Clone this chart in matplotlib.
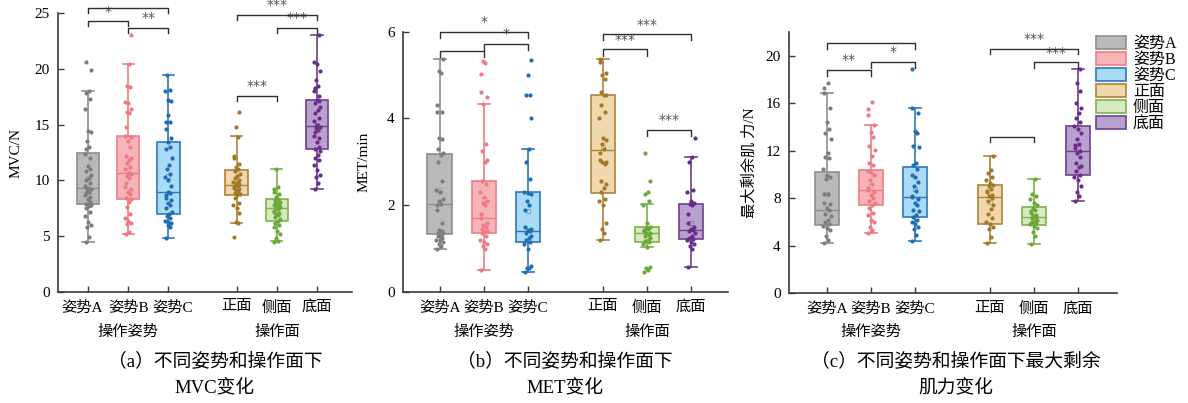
import matplotlib
matplotlib.use("Agg")
import matplotlib.pyplot as plt
import matplotlib.transforms as mtransforms
from matplotlib.patches import Patch

plt.rcParams['font.family'] = ['Liberation Serif', 'Noto Sans CJK SC', 'DejaVu Sans']
plt.rcParams['axes.unicode_minus'] = False

# Categories and labels.
categories   = ["姿势A", "姿势B", "姿势C", "正面", "侧面", "底面"]
group_labels = ["操作姿势", "操作面"]
positions    = [1, 2, 3, 4.7, 5.7, 6.7]

# Colours: box face, box edge, points.
face_colors  = ["#b9b9b9", "#f6b4b8", "#a9daf6", "#efd9ac", "#d7e9bf", "#b8a2cd"]
edge_colors  = ["#8e8e8e", "#ef7d84", "#2f78b8", "#ad8439", "#7cb24c", "#70408f"]
point_colors = ["#7d7d7d", "#f07880", "#1f6db2", "#a27828", "#6aa83a", "#6a2b8c"]

# ---- Panel (a): MVC/N ----
mvc_q1     = [7.9, 8.35, 7.0, 8.7, 6.4, 12.8]
mvc_med    = [9.3, 10.7, 9.0, 9.55, 7.5, 14.85]
mvc_q3     = [12.45, 13.95, 13.45, 10.95, 8.3, 17.2]
mvc_whislo = [4.5, 5.2, 4.8, 6.2, 4.55, 9.2]
mvc_whishi = [18.0, 20.45, 19.4, 13.95, 11.0, 23.05]
mvc_mean   = [10.2, 10.9, 10.4, 9.8, 7.4, 15.0]
mvc_points = [
    [4.5, 4.9, 5.8, 6.0, 6.3, 6.8, 7.2, 7.5, 7.7, 7.8, 7.9, 8.1, 8.3, 8.5, 8.7, 8.9, 9.0, 9.1, 9.2, 9.3, 9.5,
     9.8, 10.0, 10.2, 10.5, 10.8, 11.0, 11.3, 12.0, 12.4, 12.8, 13.0, 13.5, 14.3, 14.4, 16.4, 17.3, 17.8, 18.0, 19.9, 20.6],
    [5.2, 5.4, 6.1, 6.2, 6.4, 6.6, 7.0, 7.6, 8.1, 8.3, 8.4, 8.8, 9.0, 9.2, 9.4, 9.8, 10.2, 10.4, 10.6, 10.7, 11.0,
     11.2, 11.6, 11.8, 12.0, 12.2, 13.0, 13.5, 13.9, 14.0, 14.8, 16.0, 16.1, 16.4, 16.9, 17.0, 18.4, 18.5, 20.4, 23.0],
    [4.8, 5.8, 6.0, 6.2, 6.3, 6.4, 6.6, 6.8, 7.0, 7.2, 7.5, 7.8, 8.0, 8.2, 8.4, 8.7, 8.9, 9.0, 9.5, 10.0, 10.3,
     10.6, 11.0, 11.4, 12.0, 12.8, 13.0, 13.4, 13.8, 14.6, 15.2, 15.2, 15.9, 17.1, 17.2, 18.0, 18.1, 19.4],
    [4.9, 6.2, 6.3, 7.1, 7.5, 7.8, 8.0, 8.4, 8.7, 8.8, 8.9, 9.0, 9.1, 9.2, 9.3, 9.4, 9.5, 9.6, 9.7, 9.8, 9.9,
     10.0, 10.2, 10.4, 10.6, 10.8, 11.0, 11.2, 11.5, 12.0, 12.2, 13.9, 14.8, 16.1],
    [4.5, 4.6, 4.8, 5.2, 5.5, 5.8, 6.0, 6.2, 6.4, 6.5, 6.7, 6.9, 7.0, 7.1, 7.2, 7.3, 7.4, 7.5, 7.6, 7.7, 7.8,
     7.9, 8.0, 8.0, 8.1, 8.2, 8.3, 8.5, 8.8, 9.0, 9.2, 9.4, 11.0],
    [9.2, 9.8, 10.3, 10.5, 10.9, 11.4, 11.8, 12.0, 12.3, 12.6, 12.8, 13.0, 13.4, 13.8, 14.0, 14.3, 14.5, 14.7,
     14.8, 15.0, 15.3, 15.6, 16.0, 16.3, 16.6, 16.9, 17.1, 17.2, 17.6, 18.0, 18.3, 18.5, 19.0, 19.8, 20.4, 20.6, 23.0],
]
# brackets: (x1, x2, y, leg, label)
mvc_brackets = [
    (1, 3, 25.45, 0.45, ""),
    (1, 2, 24.25, 0.45, "*"),
    (2, 3, 23.65, 0.45, "**"),
    (4.7, 6.7, 24.85, 0.5, "***"),
    (5.7, 6.7, 23.65, 0.45, "***"),
    (4.7, 5.7, 17.6, 0.45, "***"),
]

# ---- Panel (b): MET/min ----
met_q1     = [1.33, 1.36, 1.15, 2.28, 1.15, 1.22]
met_med    = [2.02, 1.70, 1.40, 3.28, 1.36, 1.42]
met_q3     = [3.17, 2.55, 2.30, 4.53, 1.49, 2.02]
met_whislo = [1.0, 0.5, 0.45, 1.2, 1.03, 0.57]
met_whishi = [5.38, 4.33, 3.30, 5.38, 2.02, 3.12]
met_mean   = [2.35, 2.15, 1.87, 3.35, 1.4, 1.6]
met_points = [
    [1.0, 1.05, 1.1, 1.15, 1.2, 1.2, 1.25, 1.3, 1.3, 1.35, 1.35, 1.4, 1.42, 1.6, 1.9, 2.0, 2.02, 2.1, 2.15, 2.3,
     2.35, 2.55, 3.0, 3.15, 3.2, 3.3, 3.52, 3.55, 4.15, 4.15, 4.3, 5.05, 5.1, 5.38],
    [0.5, 1.0, 1.05, 1.1, 1.15, 1.2, 1.3, 1.35, 1.38, 1.4, 1.45, 1.5, 1.55, 1.6, 1.7, 1.8, 2.0, 2.05, 2.1, 2.2,
     2.3, 2.5, 2.55, 3.0, 3.05, 3.25, 3.4, 4.33, 4.5, 4.6, 5.02, 5.27, 5.33],
    [0.45, 0.55, 0.55, 0.6, 1.0, 1.1, 1.15, 1.2, 1.25, 1.3, 1.35, 1.4, 1.42, 1.45, 1.5, 1.9, 2.0, 2.1, 2.25,
     2.28, 2.3, 2.6, 3.0, 3.3, 4.0, 4.55, 4.55, 5.0, 5.35],
    [1.2, 1.35, 1.45, 1.6, 2.0, 2.1, 2.15, 2.3, 2.4, 2.5, 2.55, 2.95, 3.0, 3.0, 3.05, 3.2, 3.3, 3.4, 3.5, 3.55,
     4.0, 4.15, 4.3, 4.53, 4.55, 4.6, 4.9, 5.0, 5.05, 5.3, 5.38],
    [0.45, 0.5, 0.55, 0.57, 1.03, 1.1, 1.15, 1.18, 1.2, 1.25, 1.3, 1.32, 1.35, 1.37, 1.4, 1.42, 1.45, 1.48, 1.5,
     1.6, 2.0, 2.1, 2.25, 2.3, 2.55, 3.2],
    [0.57, 1.0, 1.05, 1.1, 1.15, 1.2, 1.22, 1.25, 1.3, 1.35, 1.4, 1.42, 1.45, 1.5, 1.6, 1.8, 2.0, 2.02, 2.05,
     2.1, 2.3, 2.35, 3.0, 3.12, 3.55],
]
met_brackets = [
    (1, 3, 6.0, 0.14, "*"),
    (1, 2, 5.55, 0.14, ""),
    (2, 3, 5.72, 0.14, "*"),
    (4.7, 6.7, 5.94, 0.14, "***"),
    (4.7, 5.7, 5.59, 0.14, "***"),
    (5.7, 6.7, 3.74, 0.14, "***"),
]

# ---- Panel (c): 最大剩余肌力/N ----
mrs_q1     = [5.72, 7.4, 6.4, 5.8, 5.72, 10.0]
mrs_med    = [7.0, 8.67, 8.13, 8.15, 6.4, 12.0]
mrs_q3     = [10.2, 10.4, 10.6, 9.12, 7.3, 14.1]
mrs_whislo = [4.2, 5.05, 4.4, 4.25, 4.15, 7.77]
mrs_whishi = [16.9, 14.2, 15.6, 11.6, 9.6, 18.9]
mrs_mean   = [8.4, 9.0, 8.8, 7.7, 6.5, 12.2]
mrs_points = [
    [4.2, 4.5, 4.8, 5.3, 5.5, 5.7, 5.8, 6.0, 6.2, 6.5, 6.7, 7.0, 7.2, 7.5, 7.6, 8.4, 8.4, 9.6, 9.8, 10.0, 10.5,
     11.4, 11.5, 11.8, 13.0, 13.5, 13.8, 14.4, 15.6, 16.9, 17.3, 17.7],
    [5.05, 5.3, 5.6, 6.0, 6.2, 6.6, 6.8, 7.2, 7.4, 7.6, 7.8, 8.0, 8.3, 8.5, 8.7, 8.9, 9.2, 9.5, 10.0, 10.2, 10.3,
     10.8, 11.0, 11.6, 12.1, 12.4, 13.2, 13.6, 14.2, 15.0, 15.5, 16.1],
    [4.4, 4.9, 5.4, 5.6, 5.8, 6.0, 6.2, 6.4, 6.6, 6.9, 7.0, 7.4, 7.6, 7.9, 8.1, 8.2, 8.6, 9.0, 9.4, 9.8, 10.0,
     10.5, 10.8, 11.0, 12.3, 12.4, 13.5, 13.7, 15.2, 15.6, 18.9],
    [4.25, 4.7, 5.4, 5.6, 5.8, 6.0, 6.3, 6.7, 7.1, 7.4, 7.8, 8.0, 8.2, 8.3, 8.5, 8.6, 8.8, 9.0, 9.1, 9.3, 9.5,
     9.8, 10.1, 10.4, 11.6],
    [4.15, 4.8, 5.2, 5.5, 5.7, 5.8, 5.9, 6.0, 6.1, 6.2, 6.3, 6.4, 6.5, 6.6, 6.8, 6.9, 7.0, 7.2, 7.4, 7.6, 7.9,
     8.2, 8.4, 9.6],
    [7.8, 8.2, 8.5, 9.0, 9.5, 9.8, 10.0, 10.3, 10.6, 10.7, 11.0, 11.5, 11.8, 12.0, 12.2, 12.5, 12.6, 13.0, 13.5,
     13.8, 14.1, 14.4, 14.8, 15.2, 15.6, 16.0, 17.0, 17.7, 18.9],
]
mrs_brackets = [
    (1, 3, 21.1, 0.5, ""),
    (1, 2, 18.8, 0.5, "**"),
    (2, 3, 19.5, 0.5, "*"),
    (4.7, 6.7, 20.6, 0.45, "***"),
    (5.7, 6.7, 19.45, 0.5, "***"),
    (4.7, 5.7, 13.2, 0.45, ""),
]

# Horizontal spread of the dots (purely visual offsets).
jitter = [-0.06, 0.03, -0.02, 0.07, 0.0, -0.08, 0.05, -0.04, 0.02, 0.08, -0.05, 0.04, -0.01, 0.06, -0.07]

W, H = 1188, 403
fig = plt.figure(figsize=(W/100, H/100), dpi=100)

panels = [
    # rect in pixels: left, top, right, bottom
    dict(rect=(58, 13, 352, 292), ylim=25, yticks=[0, 5, 10, 15, 20, 25], ylabel="MVC/N", ylab_x=-0.121,
         q1=mvc_q1, med=mvc_med, q3=mvc_q3, lo=mvc_whislo, hi=mvc_whishi, mean=mvc_mean,
         points=mvc_points, brackets=mvc_brackets, xlim=(0.254, 7.57), label_shift=[-6, 0, 4, 0, 0, 0],
         caption=["（a）不同姿势和操作面下", "MVC变化"], cap_x=215),
    dict(rect=(403, 31.7, 728, 292), ylim=6, yticks=[0, 2, 4, 6], ylabel="MET/min", ylab_x=-0.10,
         q1=met_q1, med=met_med, q3=met_q3, lo=met_whislo, hi=met_whishi, mean=met_mean,
         points=met_points, brackets=met_brackets, xlim=(0.164, 7.54), label_shift=[0]*6,
         caption=["（b）不同姿势和操作面下", "MET变化"], cap_x=565),
    dict(rect=(789, 32, 1117, 293.3), ylim=22, yticks=[0, 4, 8, 12, 16, 20], ylabel="最大剩余肌 力/N", ylab_x=-0.10,
         q1=mrs_q1, med=mrs_med, q3=mrs_q3, lo=mrs_whislo, hi=mrs_whishi, mean=mrs_mean,
         points=mrs_points, brackets=mrs_brackets, xlim=(0.136, 7.59), label_shift=[0]*6,
         caption=["（c）不同姿势和操作面下最大剩余", "肌力变化"], cap_x=956),
]

axis_color = "#3a3a3a"
for p in panels:
    l, t, r, b = p["rect"]
    ax = fig.add_axes([l/W, 1 - b/H, (r - l)/W, (b - t)/H])

    # Box stats.
    stats = []
    for i in range(len(categories)):
        stats.append(dict(q1=p["q1"][i], med=p["med"][i], q3=p["q3"][i],
                          whislo=p["lo"][i], whishi=p["hi"][i], mean=p["mean"][i], fliers=[]))
    bp = ax.bxp(stats, positions=positions, widths=0.56, patch_artist=True, showfliers=False,
                showmeans=True, capwidths=0.28)
    for i in range(len(categories)):
        bp["boxes"][i].set(facecolor=face_colors[i], edgecolor=edge_colors[i], linewidth=1.2)
        bp["medians"][i].set(color=edge_colors[i], linewidth=1.0)
        for k in (2*i, 2*i + 1):
            bp["whiskers"][k].set(color=edge_colors[i], linewidth=1.2)
            bp["caps"][k].set(color=edge_colors[i], linewidth=1.2)
        bp["means"][i].set(marker="s", markersize=3.5, markerfacecolor="none",
                           markeredgecolor=edge_colors[i], markeredgewidth=0.6, alpha=0.6)

    # Scatter points.
    for i in range(len(categories)):
        vals = p["points"][i]
        xs = [positions[i] + jitter[j % len(jitter)] for j in range(len(vals))]
        ax.scatter(xs, vals, s=9, color=point_colors[i], zorder=4, linewidths=0)

    # Significance brackets.
    for (x1, x2, y, leg, label) in p["brackets"]:
        ax.plot([x1, x1, x2, x2], [y - leg, y, y, y - leg], color="#2f2f2f", linewidth=1.0, clip_on=False, zorder=5)
        if label:
            ax.annotate(label, xy=((x1 + x2)/2, y), xytext=(0, 2), textcoords="offset points",
                        ha="center", va="bottom", fontsize=10, color="#555555", family="DejaVu Sans",
                        annotation_clip=False)

    ax.set_xlim(*p["xlim"])
    ax.set_ylim(0, p["ylim"])
    ax.set_yticks(p["yticks"])
    ax.set_xticks(positions)
    ax.set_xticklabels(categories)
    ax.tick_params(direction="in", length=4, width=1.0, color=axis_color, labelsize=11, pad=6)
    for lab, dx in zip(ax.get_xticklabels(), p["label_shift"]):
        if dx:
            lab.set_transform(lab.get_transform() + mtransforms.ScaledTranslation(dx/100, 0, fig.dpi_scale_trans))
    for side in ("top", "right"):
        ax.spines[side].set_visible(False)
    for side in ("left", "bottom"):
        ax.spines[side].set_color(axis_color)
        ax.spines[side].set_linewidth(1.2)
    ax.set_ylabel(p["ylabel"], fontsize=11)
    ax.yaxis.set_label_coords(p["ylab_x"], 0.5)

    # Group labels under the ticks.
    trans = mtransforms.blended_transform_factory(ax.transData, fig.transFigure)
    ax.text(2, 1 - 332/H, group_labels[0], transform=trans, ha="center", va="center", fontsize=11)
    ax.text(5.7, 1 - 332/H, group_labels[1], transform=trans, ha="center", va="center", fontsize=11)

    # Caption.
    fig.text(p["cap_x"]/W, 1 - 361/H, p["caption"][0], ha="center", va="center", fontsize=13.5)
    fig.text(p["cap_x"]/W, 1 - 388/H, p["caption"][1], ha="center", va="center", fontsize=13.5)

# Legend.
handles = [Patch(facecolor=face_colors[i], edgecolor=edge_colors[i], linewidth=1.2) for i in range(len(categories))]
fig.legend(handles, categories, loc="upper left", bbox_to_anchor=(1096/W, 1 - 36/H), frameon=False,
           fontsize=11.5, handlelength=1.9, handleheight=0.8, labelspacing=0.0, handletextpad=0.4,
           borderpad=0.0, borderaxespad=0.0)

fig.savefig("out.png", dpi=100)
